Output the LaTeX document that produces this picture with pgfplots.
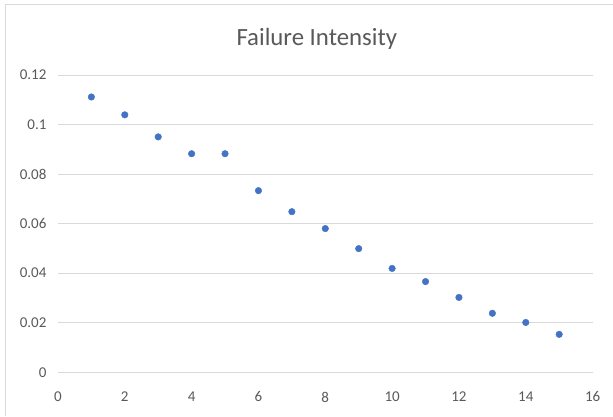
\documentclass[border=0pt]{standalone}
\usepackage{pgfplots}
\pgfplotsset{compat=1.18}
\usepackage{fontspec}
\setmainfont{Carlito}
\definecolor{txt}{HTML}{595959}
\definecolor{gridc}{HTML}{D9D9D9}
\definecolor{ptc}{HTML}{4472C4}
\begin{document}
\begin{tikzpicture}[x=1pt,y=1pt]
\path (0,0) rectangle (613,416);
\draw[gridc,line width=0.8pt] (5,0) -- (5,412) -- (613,412);
\node[text=txt,font=\fontsize{24.8}{27}\selectfont] at (317,377) {Failure Intensity};
\begin{axis}[
  at={(58pt,43.5pt)}, anchor=south west,
  scale only axis, width=535pt, height=297.5pt,
  xmin=0, xmax=16, ymin=0, ymax=0.12,
  xtick={0,2,...,16},
  ytick={0,0.02,0.04,0.06,0.08,0.1,0.12},
  yticklabels={0,0.02,0.04,0.06,0.08,0.1,0.12},
  xticklabels={0,2,4,6,8,10,12,14,16},
  axis line style={draw=none},
  axis x line*=bottom,
  x axis line style={draw=gridc, line width=0.8pt},
  tick style={draw=none},
  ymajorgrids=true, xmajorgrids=false,
  major grid style={draw=gridc, line width=0.8pt},
  ticklabel style={text=txt, font=\fontsize{15}{17}\selectfont},
  xticklabel style={yshift=-16pt},
  yticklabel style={xshift=-8pt},
  clip=false,
]
\addplot[only marks, mark=*, mark size=3.3pt, mark options={fill=ptc, draw=ptc}] coordinates {
(1,0.1111) (2,0.1039) (3,0.0950) (4,0.0882) (5,0.0882) (6,0.0733) (7,0.0648) (8,0.0580)
(9,0.0499) (10,0.0419) (11,0.0366) (12,0.0302) (13,0.0238) (14,0.0201) (15,0.0153)
};
\end{axis}
\end{tikzpicture}
\end{document}
